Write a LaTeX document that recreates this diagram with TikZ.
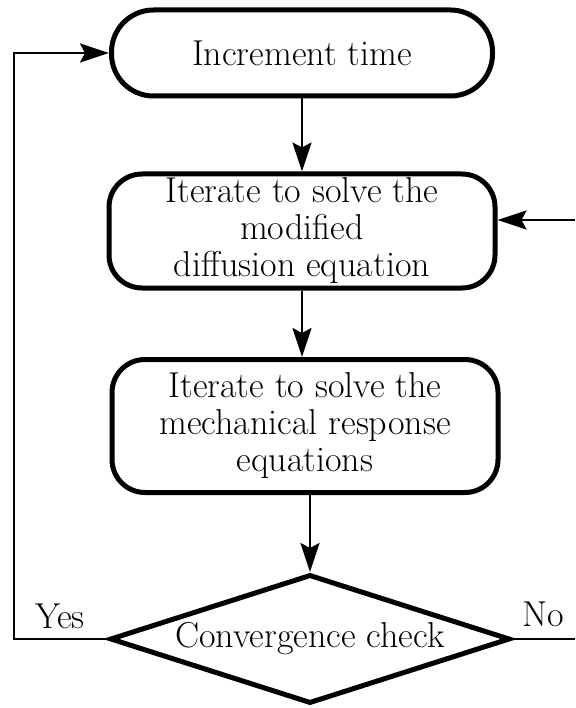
\documentclass[tikz,border=0pt]{standalone}
\usepackage{fontspec}
\usetikzlibrary{shapes.geometric,arrows.meta}
\begin{document}
\begin{tikzpicture}[x=1pt,y=-1pt,
  txt/.style={font=\fontsize{36}{37}\selectfont,inner sep=0pt},
  box/.style={txt,draw,line width=5pt,rounded corners=33pt,align=center},
  conn/.style={line width=2.2pt},
  arr/.style={conn,-{Stealth[length=29pt,width=19pt,inset=5pt]}}]
\useasboundingbox (0,0) rectangle (575,708);
\node[box,minimum width=381pt,minimum height=86pt,rounded corners=42pt] (b1) at (302,53) {Increment time};
\node[box,minimum width=386pt,minimum height=114pt] (b2) at (302,231) {Iterate to solve the\\modified\\diffusion equation};
\node[box,minimum width=386pt,minimum height=133pt] (b3) at (305,426) {Iterate to solve the\\mechanical response\\equations};
\node[txt,draw,diamond,line width=5pt,minimum width=400pt,minimum height=129pt,shape aspect=3] (d) at (310,639) {Convergence check};
\node[txt] (yes) at (60,616) {Yes};
\node[txt] (no) at (543,614) {No};
\coordinate (lc) at (14,639);
\coordinate (rn) at (575,639);
\coordinate (rb) at (575,220);
\draw[arr] (b1.south) -- (b2.north);
\draw[arr] (b2.south) -- (b2.south |- b3.north);
\draw[arr] (b3.south -| d.north) -- (d.north);
\draw[arr] (d.west) -- (lc) |- (b1.west);
\draw[conn] (d.east) -- (rn);
\draw[arr] (rb) -- (rb -| b2.east);
\end{tikzpicture}
\end{document}
